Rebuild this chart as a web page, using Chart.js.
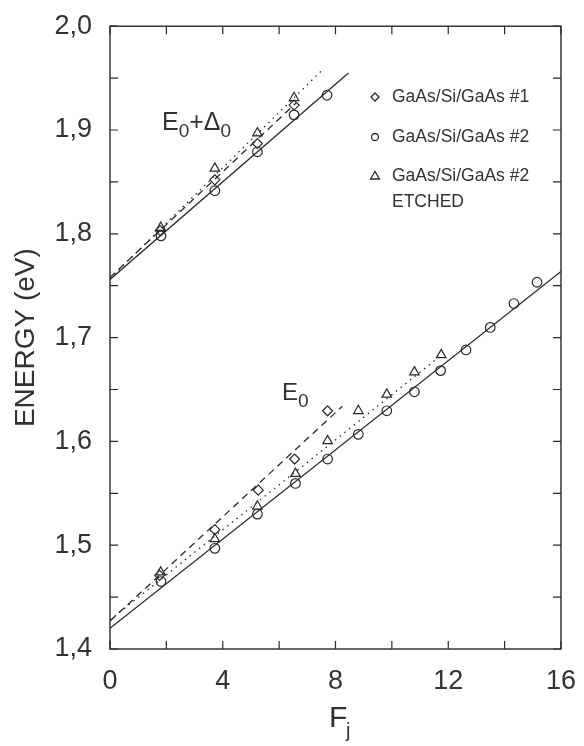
<!DOCTYPE html>
<html>
<head>
<meta charset="utf-8">
<script src="https://cdn.jsdelivr.net/npm/chart.js@4.4.1/dist/chart.umd.min.js"></script>
<style>
  html, body { margin: 0; padding: 0; background: #fff; }
  #wrap { width: 584px; height: 746px; position: relative; }
</style>
</head>
<body>
<div id="wrap"><canvas id="energyChart"></canvas></div>
<script>
// ticks
const xMajor = [0, 4, 8, 12, 16];
const xTickLabels = ['0', '4', '8', '12', '16'];
const yMajor = [1.4, 1.5, 1.6, 1.7, 1.8, 1.9, 2.0];
const yTickLabels = ['1,4', '1,5', '1,6', '1,7', '1,8', '1,9', '2,0'];

const seriesNames = ['GaAs/Si/GaAs #1', 'GaAs/Si/GaAs #2', 'GaAs/Si/GaAs #2', 'ETCHED'];

// E0 + Delta0 branch
const upDiamondX = [1.78, 3.72, 5.23, 6.53];
const upDiamondY = [1.803, 1.852, 1.887, 1.924];
const upCircleX = [1.81, 3.72, 5.23, 6.53, 7.70];
const upCircleY = [1.798, 1.8415, 1.879, 1.9146, 1.9335];
const upTriangleX = [1.80, 3.72, 5.23, 6.53];
const upTriangleY = [1.806, 1.863, 1.897, 1.931];

// E0 branch
const loDiamondX = [1.76, 3.72, 5.26, 6.55, 7.72];
const loDiamondY = [1.471, 1.515, 1.553, 1.583, 1.6295];
const loCircleX = [1.81, 3.72, 5.23, 6.58, 7.72, 8.81, 9.82, 10.8, 11.73, 12.63, 13.49, 14.33, 15.15];
const loCircleY = [1.465, 1.497, 1.530, 1.5595, 1.583, 1.6068, 1.6295, 1.6478, 1.6682, 1.6881, 1.7098, 1.7328, 1.7533];
const loTriangleX = [1.80, 3.72, 5.23, 6.58, 7.72, 8.81, 9.82, 10.8, 11.75];
const loTriangleY = [1.474, 1.506, 1.5375, 1.569, 1.6005, 1.6295, 1.6453, 1.6667, 1.6834];

// fitted lines (end points)
const fitUpSolidX = [0, 8.46];
const fitUpSolidY = [1.756, 1.955];
const fitUpDashX = [0, 6.6];
const fitUpDashY = [1.758, 1.926];
const fitUpDotX = [0, 7.5];
const fitUpDotY = [1.757, 1.957];
const fitLoSolidX = [0, 16];
const fitLoSolidY = [1.42, 1.7637];
const fitLoDashX = [0, 8.25];
const fitLoDashY = [1.427, 1.634];
const fitLoDotX = [0, 11.8];
const fitLoDotY = [1.428, 1.684];

const ink = '#2a2a2a';
const font = '"Liberation Sans", Arial, sans-serif';
const pts = (xs, ys) => xs.map((x, i) => ({ x, y: ys[i] }));

function markers(xs, ys, style, r) {
  return {
    data: pts(xs, ys), showLine: false, pointStyle: style, pointRadius: r,
    pointBorderWidth: 1.2, borderColor: ink, backgroundColor: 'rgba(0,0,0,0)'
  };
}
function fit(xs, ys, dash) {
  return {
    data: pts(xs, ys), showLine: true, pointRadius: 0, borderColor: ink,
    borderWidth: 1.3, borderDash: dash, fill: false
  };
}

// frame, inward ticks, titles, labels and legend
const decorations = {
  id: 'decorations',
  afterDatasetsDraw(chart) {
    const { ctx, chartArea: a, scales: { x, y } } = chart;
    ctx.save();
    ctx.strokeStyle = ink;
    ctx.lineWidth = 1.4;
    ctx.strokeRect(a.left, a.top, a.right - a.left, a.bottom - a.top);

    const mids = v => v.slice(1).map((b, i) => (v[i] + b) / 2);
    ctx.lineWidth = 1.2;
    ctx.beginPath();
    xMajor.concat(mids(xMajor)).forEach(v => {
      const p = x.getPixelForValue(v);
      ctx.moveTo(p, a.bottom); ctx.lineTo(p, a.bottom - 8);
      ctx.moveTo(p, a.top); ctx.lineTo(p, a.top + 8);
    });
    yMajor.concat(mids(yMajor)).forEach(v => {
      const p = y.getPixelForValue(v);
      ctx.moveTo(a.left, p); ctx.lineTo(a.left + 8, p);
      ctx.moveTo(a.right, p); ctx.lineTo(a.right - 8, p);
    });
    ctx.stroke();

    ctx.fillStyle = '#333';
    ctx.textBaseline = 'alphabetic';

    // axis titles
    ctx.save();
    ctx.translate(34, (a.top + a.bottom) / 2);
    ctx.rotate(-Math.PI / 2);
    ctx.textAlign = 'center';
    ctx.font = '28px ' + font;
    ctx.fillText('ENERGY (eV)', 0, 0);
    ctx.restore();

    ctx.textAlign = 'left';
    ctx.font = '30px ' + font;
    ctx.fillText('F', 329, 727);
    ctx.font = '20px ' + font;
    ctx.fillText('j', 346, 737);

    // branch labels
    const run = (parts, x0) => {
      let cx = x0;
      parts.forEach(([t, size, base]) => {
        ctx.font = size + 'px ' + font;
        ctx.fillText(t, cx, base);
        cx += ctx.measureText(t).width;
      });
    };
    run([['E', 25, 130], ['0', 19, 137], ['+', 25, 130], ['\u0394', 25, 130], ['0', 19, 137]], 162);
    run([['E', 24, 400], ['0', 19, 407]], 282);

    // legend
    ctx.font = '17.5px ' + font;
    ctx.textBaseline = 'middle';
    const rows = [97, 137, 176, 202];
    seriesNames.forEach((t, i) => ctx.fillText(t, 392, rows[i]));
    ctx.lineWidth = 1.3;
    ctx.beginPath();
    ctx.moveTo(375, rows[0] - 4); ctx.lineTo(379, rows[0]); ctx.lineTo(375, rows[0] + 4); ctx.lineTo(371, rows[0]); ctx.closePath();
    ctx.moveTo(378.5, rows[1]); ctx.arc(375, rows[1], 3.5, 0, Math.PI * 2);
    ctx.moveTo(375, rows[2] - 4.5); ctx.lineTo(379.5, rows[2] + 3); ctx.lineTo(370.5, rows[2] + 3); ctx.closePath();
    ctx.stroke();
    ctx.restore();
  }
};

new Chart(document.getElementById('energyChart'), {
  type: 'scatter',
  data: {
    datasets: [
      fit(fitUpSolidX, fitUpSolidY, []),
      fit(fitUpDashX, fitUpDashY, [7, 5]),
      fit(fitUpDotX, fitUpDotY, [1.5, 4.5]),
      fit(fitLoSolidX, fitLoSolidY, []),
      fit(fitLoDashX, fitLoDashY, [7, 5]),
      fit(fitLoDotX, fitLoDotY, [1.5, 4.5]),
      markers(upDiamondX, upDiamondY, 'rectRot', 5),
      markers(upCircleX, upCircleY, 'circle', 4.8),
      markers(upTriangleX, upTriangleY, 'triangle', 5.5),
      markers(loDiamondX, loDiamondY, 'rectRot', 5),
      markers(loCircleX, loCircleY, 'circle', 4.8),
      markers(loTriangleX, loTriangleY, 'triangle', 5.5)
    ]
  },
  options: {
    responsive: true,
    maintainAspectRatio: false,
    animation: false,
    layout: { padding: { top: 14, right: 18, left: 0, bottom: 0 } },
    plugins: { legend: { display: false }, tooltip: { enabled: false } },
    scales: {
      x: {
        type: 'linear', min: 0, max: 16,
        grid: { display: false }, border: { display: false },
        afterBuildTicks: s => { s.ticks = xMajor.map(v => ({ value: v })); },
        afterFit: s => { s.height = 97; },
        ticks: {
          autoSkip: false, maxRotation: 0, padding: 8, color: '#333',
          font: { size: 27, family: font },
          callback: (v, i) => xTickLabels[i]
        }
      },
      y: {
        type: 'linear', min: 1.4, max: 2.0,
        grid: { display: false }, border: { display: false },
        afterBuildTicks: s => { s.ticks = yMajor.map(v => ({ value: v })); },
        afterFit: s => { s.width = 110; },
        ticks: {
          autoSkip: false, padding: 10, color: '#333',
          font: { size: 27, family: font },
          callback: (v, i) => yTickLabels[i]
        }
      }
    }
  },
  plugins: [decorations]
});
</script>
</body>
</html>
